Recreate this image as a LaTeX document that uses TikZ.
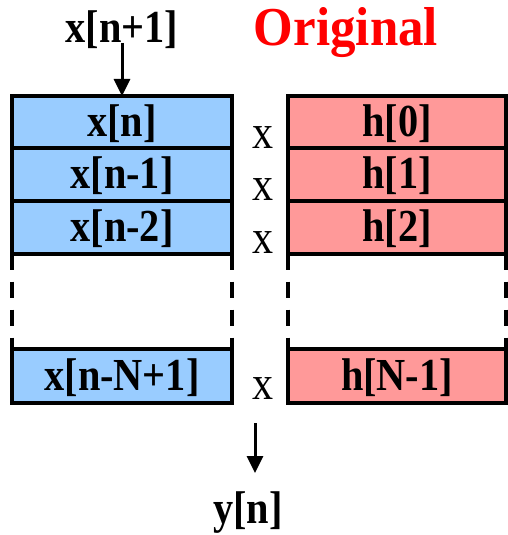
\documentclass[tikz,border=0pt]{standalone}
\usepackage{fontspec}
\setmainfont{Liberation Serif}
\newfontfamily\labelfont{Liberation Serif}[FakeStretch=0.88]
\newfontfamily\titlefont{Liberation Serif}[FakeStretch=0.93]
\usetikzlibrary{arrows.meta,positioning}
\definecolor{CellBlue}{RGB}{153,204,255}
\definecolor{CellRed}{RGB}{255,153,153}
\definecolor{TitleRed}{RGB}{255,0,0}
\tikzset{
  cell/.style={draw=black,line width=4bp,inner sep=0pt,outer sep=0pt,
               minimum height=52.5bp,text height=34bp,text depth=6bp,
               font=\labelfont\fontsize{46}{46}\selectfont\bfseries},
  xcell/.style={cell,fill=CellBlue,minimum width=220bp},
  hcell/.style={cell,fill=CellRed,minimum width=218bp},
  mult/.style={font=\labelfont\fontsize{48}{48}\selectfont,inner sep=0pt,anchor=base},
  sig/.style={font=\labelfont\fontsize{46}{46}\selectfont\bfseries,inner sep=0pt,anchor=base},
  fl/.style={-{Triangle[length=17bp,width=16bp]},line width=3bp},
  gap/.style={line width=4bp,dash pattern=on 16bp off 12bp}
}
\begin{document}
\begin{tikzpicture}[x=1bp,y=-1bp]
  \useasboundingbox (0,0) rectangle (508,535);
  % delay line
  \node[xcell,anchor=north] (x0) at (122,96) {x[n]};
  \node[xcell,below=0pt of x0] (x1) {x[n-1]};
  \node[xcell,below=0pt of x1] (x2) {x[n-2]};
  \node[xcell,minimum height=54bp,anchor=north] (xN) at (122,349) {x[n-N+1]};
  % taps
  \node[hcell,anchor=north] (h0) at (397,96) {h[0]};
  \node[hcell,below=0pt of h0] (h1) {h[1]};
  \node[hcell,below=0pt of h1] (h2) {h[2]};
  \node[hcell,minimum height=54bp,anchor=north] (hN) at (397,349) {h[N-1]};
  % the skipped rows
  \draw[gap] (x2.south west) -- (xN.north west);
  \draw[gap] (x2.south east) -- (xN.north east);
  \draw[gap] (h2.south west) -- (hN.north west);
  \draw[gap] (h2.south east) -- (hN.north east);
  % products
  \node[mult] (m0) at (263,149) {x};
  \node[mult] (m1) at (263,201) {x};
  \node[mult] (m2) at (263,253) {x};
  \node[mult] (mN) at (263,399) {x};
  % input, output, title
  \node[sig] (in) at (122,43) {x[n+1]};
  \node[sig,font=\titlefont\fontsize{55}{55}\selectfont\bfseries,text=TitleRed] (title) at (346,46) {Original};
  \node[sig] (out) at (248,523) {y[n]};
  \coordinate (sumtop) at (255,423);
  \coordinate (sumbot) at (255,473);
  \draw[fl] (in.base) -- (x0.north);
  \draw[fl] (sumtop) -- (sumbot);
\end{tikzpicture}
\end{document}
